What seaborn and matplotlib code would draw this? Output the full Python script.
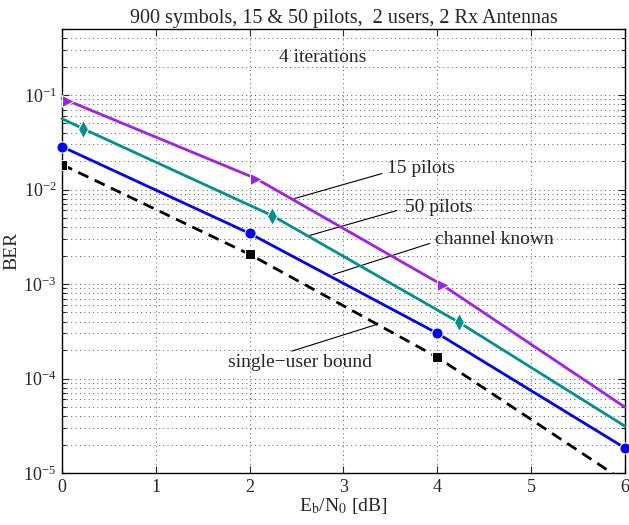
import numpy as np
import pandas as pd
import seaborn as sns
import matplotlib.pyplot as plt
from matplotlib.ticker import LogLocator, FixedLocator, NullFormatter

# Date (Eb/N0 in dB, BER)
snr_15 = [0.0, 0.064, 2.068, 4.06, 6.0]
ber_15 = [0.092, 0.087, 0.01306, 9.68e-4, 4.98e-5]

snr_50 = [0.0, 0.224, 2.238, 4.231, 6.0]
ber_50 = [0.0562, 0.044, 0.00531, 3.93e-4, 3.13e-5]

snr_known = [0.0, 2.0, 4.0, 6.0]
ber_known = [0.0284, 0.00343, 3.01e-4, 1.84e-5]

snr_bound = [0.0, 2.0, 4.0, 6.0]
ber_bound = [0.01836, 0.00206, 1.68e-4, 8.1e-6]

x_ticks = [0, 1, 2, 3, 4, 5, 6]

sns.set_style("ticks")
plt.rcParams['font.family'] = ['Liberation Serif', 'DejaVu Serif']
plt.rcParams['mathtext.fontset'] = 'stix'
plt.rcParams['xtick.direction'] = 'in'
plt.rcParams['ytick.direction'] = 'in'

fs = 14

fig = plt.figure(figsize=(6.29, 5.25), dpi=100)
ax = fig.add_axes([0.0986, 0.099, 0.895, 0.8458])

# curbe
sns.lineplot(x=snr_15, y=ber_15, ax=ax, color='#A020F0', lw=2, marker='>',
             markersize=9, markevery=[1, 2, 3], clip_on=False, zorder=4)
sns.lineplot(x=snr_50, y=ber_50, ax=ax, color='#009090', lw=2, marker='d',
             markersize=9, markevery=[1, 2, 3], clip_on=False, zorder=4)
sns.lineplot(x=snr_known, y=ber_known, ax=ax, color='#0000FF', lw=2, marker='o',
             markersize=8, clip_on=False, zorder=4)
sns.lineplot(x=snr_bound, y=ber_bound, ax=ax, color='black', lw=2, marker='s',
             markersize=6.5, markevery=[0, 1, 2], linestyle=(0, (4, 2.5)), zorder=4)

ax.set_yscale('log')
ax.set_xlim(0, 6)
ax.set_ylim(1e-5, 0.5)
ax.xaxis.set_major_locator(FixedLocator(x_ticks))
ax.yaxis.set_major_locator(LogLocator(base=10, numticks=10))
ax.yaxis.set_minor_locator(LogLocator(base=10, subs=np.arange(2, 10), numticks=20))
ax.yaxis.set_minor_formatter(NullFormatter())

ax.grid(True, which='major', axis='both', color='0.35', lw=0.7, linestyle=(0, (1, 3.5)))
ax.grid(True, which='minor', axis='y', color='0.35', lw=0.7, linestyle=(0, (1, 3.5)))
ax.tick_params(which='both', top=True, right=True, labelsize=13, width=0.8)
ax.tick_params(which='major', length=5, pad=4)
ax.tick_params(which='minor', length=3)
for s in ax.spines.values():
    s.set_linewidth(1.0)
    s.set_color('black')

ax.set_title('900 symbols, 15 & 50 pilots,  2 users, 2 Rx Antennas', fontsize=14.5, pad=4)
ax.set_xlabel(r'E$_\mathrm{b}$/N$_\mathrm{0}$ [dB]', fontsize=fs, labelpad=0)
ax.set_ylabel('BER', fontsize=fs, labelpad=2)

# etichete cu linii
arrow = dict(arrowstyle='-', color='black', lw=0.8, shrinkA=0, shrinkB=0)
ax.annotate('', xy=(2.48, 0.00804), xytext=(3.41, 0.01476), arrowprops=arrow)
ax.text(3.46, 0.0167, '15 pilots', fontsize=fs, va='center', ha='left')
ax.annotate('', xy=(2.64, 0.00327), xytext=(3.57, 0.006), arrowprops=arrow)
ax.text(3.66, 0.00646, '50 pilots', fontsize=fs, va='center', ha='left')
ax.annotate('', xy=(2.89, 0.00126), xytext=(3.92, 0.00269), arrowprops=arrow)
ax.text(3.98, 0.00296, 'channel known', fontsize=fs, va='center', ha='left')
ax.annotate('', xy=(3.36, 3.75e-4), xytext=(2.45, 1.95e-4), arrowprops=arrow)
ax.text(2.54, 1.49e-4, 'single\u2212user bound', fontsize=fs, va='center', ha='center')
ax.text(2.78, 0.248, '4 iterations', fontsize=fs, va='center', ha='center')

plt.savefig('out.png', dpi=100)
